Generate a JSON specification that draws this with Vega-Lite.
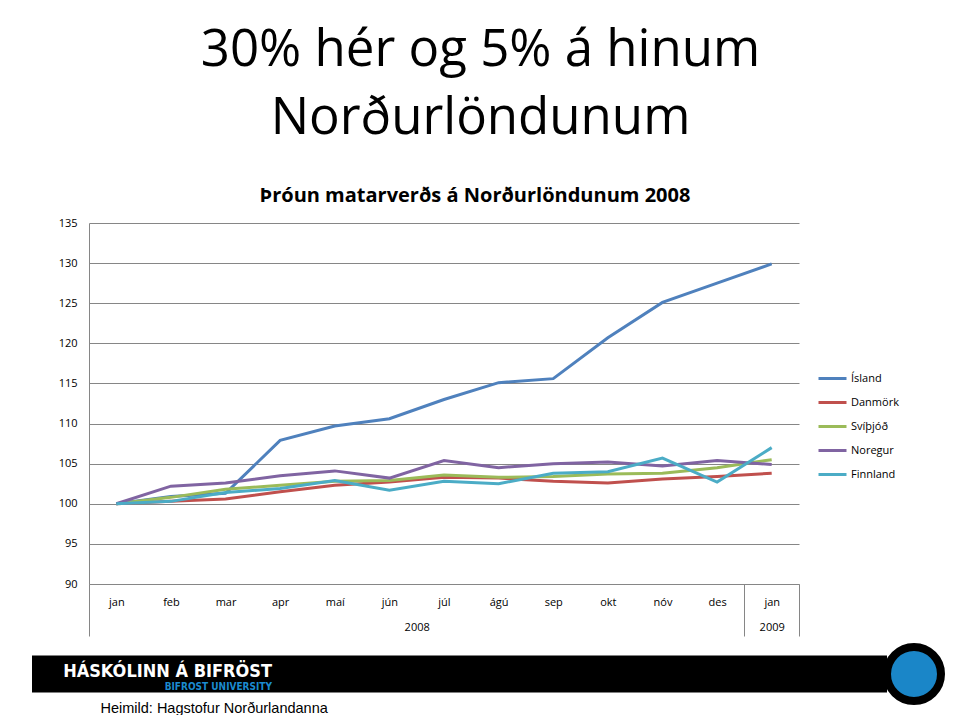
{
  "$schema": "https://vega.github.io/schema/vega-lite/v6.json",
  "background": "white",
  "padding": {"left": 32, "top": 25, "right": 10, "bottom": 0},
  "config": {"view": {"stroke": null}, "font": "Open Sans"},
  "title": {
    "text": ["30% hér og 5% á hinum", "Norðurlöndunum"],
    "font": "Open Sans",
    "fontSize": 51,
    "fontWeight": "normal",
    "color": "black",
    "anchor": "middle",
    "lineHeight": 68,
    "offset": 41,
    "dx": -8
  },
  "spacing": 6,
  "vconcat": [
    {
      "spacing": 0,
      "hconcat": [
        {
          "width": 1,
          "height": 1,
          "data": {"values": []},
          "mark": "point",
          "encoding": {}
        },
        {
          "width": 710,
          "height": 361,
          "title": {
            "text": "Þróun matarverðs á Norðurlöndunum 2008",
            "font": "Open Sans",
            "fontSize": 20,
            "fontWeight": "bold",
            "color": "black",
            "anchor": "middle",
            "dx": 31,
            "offset": 11
          },
          "layer": [
            {
              "data": {
                "values": [
                  {"country": "Ísland", "period": "2008-01", "value": 100},
                  {"country": "Ísland", "period": "2008-02", "value": 100.9},
                  {"country": "Ísland", "period": "2008-03", "value": 101.3},
                  {"country": "Ísland", "period": "2008-04", "value": 107.9},
                  {"country": "Ísland", "period": "2008-05", "value": 109.7},
                  {"country": "Ísland", "period": "2008-06", "value": 110.6},
                  {"country": "Ísland", "period": "2008-07", "value": 113.0},
                  {"country": "Ísland", "period": "2008-08", "value": 115.1},
                  {"country": "Ísland", "period": "2008-09", "value": 115.6},
                  {"country": "Ísland", "period": "2008-10", "value": 120.7},
                  {"country": "Ísland", "period": "2008-11", "value": 125.1},
                  {"country": "Ísland", "period": "2008-12", "value": 127.5},
                  {"country": "Ísland", "period": "2009-01", "value": 129.9},
                  {"country": "Danmörk", "period": "2008-01", "value": 100},
                  {"country": "Danmörk", "period": "2008-02", "value": 100.3},
                  {"country": "Danmörk", "period": "2008-03", "value": 100.6},
                  {"country": "Danmörk", "period": "2008-04", "value": 101.5},
                  {"country": "Danmörk", "period": "2008-05", "value": 102.3},
                  {"country": "Danmörk", "period": "2008-06", "value": 102.7},
                  {"country": "Danmörk", "period": "2008-07", "value": 103.3},
                  {"country": "Danmörk", "period": "2008-08", "value": 103.2},
                  {"country": "Danmörk", "period": "2008-09", "value": 102.8},
                  {"country": "Danmörk", "period": "2008-10", "value": 102.6},
                  {"country": "Danmörk", "period": "2008-11", "value": 103.1},
                  {"country": "Danmörk", "period": "2008-12", "value": 103.4},
                  {"country": "Danmörk", "period": "2009-01", "value": 103.8},
                  {"country": "Svíþjóð", "period": "2008-01", "value": 100},
                  {"country": "Svíþjóð", "period": "2008-02", "value": 100.8},
                  {"country": "Svíþjóð", "period": "2008-03", "value": 101.8},
                  {"country": "Svíþjóð", "period": "2008-04", "value": 102.3},
                  {"country": "Svíþjóð", "period": "2008-05", "value": 102.8},
                  {"country": "Svíþjóð", "period": "2008-06", "value": 102.9},
                  {"country": "Svíþjóð", "period": "2008-07", "value": 103.6},
                  {"country": "Svíþjóð", "period": "2008-08", "value": 103.3},
                  {"country": "Svíþjóð", "period": "2008-09", "value": 103.4},
                  {"country": "Svíþjóð", "period": "2008-10", "value": 103.7},
                  {"country": "Svíþjóð", "period": "2008-11", "value": 103.8},
                  {"country": "Svíþjóð", "period": "2008-12", "value": 104.5},
                  {"country": "Svíþjóð", "period": "2009-01", "value": 105.5},
                  {"country": "Noregur", "period": "2008-01", "value": 100},
                  {"country": "Noregur", "period": "2008-02", "value": 102.2},
                  {"country": "Noregur", "period": "2008-03", "value": 102.6},
                  {"country": "Noregur", "period": "2008-04", "value": 103.5},
                  {"country": "Noregur", "period": "2008-05", "value": 104.1},
                  {"country": "Noregur", "period": "2008-06", "value": 103.2},
                  {"country": "Noregur", "period": "2008-07", "value": 105.4},
                  {"country": "Noregur", "period": "2008-08", "value": 104.5},
                  {"country": "Noregur", "period": "2008-09", "value": 105.0},
                  {"country": "Noregur", "period": "2008-10", "value": 105.2},
                  {"country": "Noregur", "period": "2008-11", "value": 104.7},
                  {"country": "Noregur", "period": "2008-12", "value": 105.4},
                  {"country": "Noregur", "period": "2009-01", "value": 104.9},
                  {"country": "Finnland", "period": "2008-01", "value": 100},
                  {"country": "Finnland", "period": "2008-02", "value": 100.3},
                  {"country": "Finnland", "period": "2008-03", "value": 101.4},
                  {"country": "Finnland", "period": "2008-04", "value": 101.9},
                  {"country": "Finnland", "period": "2008-05", "value": 102.9},
                  {"country": "Finnland", "period": "2008-06", "value": 101.7},
                  {"country": "Finnland", "period": "2008-07", "value": 102.8},
                  {"country": "Finnland", "period": "2008-08", "value": 102.5},
                  {"country": "Finnland", "period": "2008-09", "value": 103.8},
                  {"country": "Finnland", "period": "2008-10", "value": 104.0},
                  {"country": "Finnland", "period": "2008-11", "value": 105.7},
                  {"country": "Finnland", "period": "2008-12", "value": 102.7},
                  {"country": "Finnland", "period": "2009-01", "value": 107.0}
                ]
              },
              "mark": {"type": "line", "strokeWidth": 3},
              "encoding": {
                "x": {
                  "field": "period",
                  "type": "ordinal",
                  "scale": {"type": "point", "padding": 0.5},
                  "axis": {
                    "orient": "bottom",
                    "title": null,
                    "labelExpr": "['jan','feb','mar','apr','maí','jún','júl','ágú','sep','okt','nóv','des'][toNumber(slice(datum.value, 5)) - 1]",
                    "labelAngle": 0,
                    "labelFontSize": 11,
                    "labelColor": "black",
                    "labelPadding": 12,
                    "ticks": false,
                    "tickSize": 0,
                    "grid": false,
                    "domainColor": "#868686"
                  }
                },
                "y": {
                  "field": "value",
                  "type": "quantitative",
                  "scale": {"domain": [90, 135], "zero": false, "nice": false},
                  "axis": {
                    "title": null,
                    "values": [90, 95, 100, 105, 110, 115, 120, 125, 130, 135],
                    "grid": true,
                    "gridColor": "#868686",
                    "gridOpacity": 1,
                    "domainColor": "#868686",
                    "ticks": false,
                    "tickSize": 0,
                    "labelPadding": 12,
                    "labelFontSize": 11,
                    "labelColor": "black",
                    "minExtent": 56
                  }
                },
                "color": {
                  "field": "country",
                  "type": "nominal",
                  "scale": {
                    "domain": ["Ísland", "Danmörk", "Svíþjóð", "Noregur", "Finnland"],
                    "range": ["#4F81BD", "#C0504D", "#9BBB59", "#8064A2", "#4BACC6"]
                  },
                  "legend": {
                    "title": null,
                    "orient": "none",
                    "legendX": 785,
                    "legendY": 140,
                    "symbolType": "stroke",
                    "symbolSize": 784,
                    "symbolStrokeWidth": 3,
                    "labelFontSize": 11,
                    "labelColor": "black",
                    "labelOffset": 3,
                    "rowPadding": 2
                  }
                }
              }
            },
            {
              "data": {"values": []},
              "mark": "point",
              "encoding": {
                "x": {
                  "field": "pos",
                  "type": "quantitative",
                  "scale": {"domain": [0, 13], "nice": false, "zero": false},
                  "axis": {
                    "orient": "bottom",
                    "title": null,
                    "values": [6, 12.5],
                    "labelExpr": "datum.value < 12 ? '2008' : '2009'",
                    "labelFontSize": 11,
                    "labelColor": "black",
                    "labelPadding": 37,
                    "domain": false,
                    "ticks": false,
                    "tickSize": 0,
                    "grid": false
                  }
                },
                "y": {"field": "value", "type": "quantitative"}
              }
            },
            {
              "data": {"values": []},
              "mark": "point",
              "encoding": {
                "x": {
                  "field": "pos",
                  "type": "quantitative",
                  "scale": {"domain": [0, 13], "nice": false, "zero": false},
                  "axis": {
                    "orient": "bottom",
                    "title": null,
                    "values": [0, 12, 13],
                    "labels": false,
                    "domain": false,
                    "ticks": true,
                    "tickSize": 52,
                    "tickColor": "#868686",
                    "grid": false
                  }
                },
                "y": {"field": "value", "type": "quantitative"}
              }
            }
          ],
          "resolve": {"scale": {"x": "independent"}, "axis": {"x": "independent"}}
        }
      ]
    },
    {
      "hconcat": [
        {
          "width": 855,
          "height": 37,
          "view": {"fill": "black", "stroke": null},
          "title": {
            "text": "HÁSKÓLINN Á BIFRÖST",
            "subtitle": "BIFROST UNIVERSITY",
            "anchor": "start",
            "align": "right",
            "orient": "top",
            "dx": 240,
            "offset": -36,
            "font": "DejaVu Sans Condensed",
            "fontSize": 18,
            "fontWeight": "bold",
            "color": "white",
            "subtitleFont": "DejaVu Sans Condensed",
            "subtitleFontSize": 10,
            "subtitleFontWeight": "bold",
            "subtitleColor": "#1B8BCF",
            "subtitlePadding": 1
          },
          "data": {"values": []},
          "mark": "point",
          "encoding": {
            "x": {
              "field": "source",
              "type": "nominal",
              "axis": {
                "title": "Heimild: Hagstofur Norðurlandanna",
                "titleFont": "Liberation Sans",
                "titleFontSize": 14.5,
                "titleFontWeight": "normal",
                "titleColor": "black",
                "titleAnchor": "start",
                "titleAlign": "left",
                "titleX": 68,
                "titleY": 9,
                "titleBaseline": "top",
                "labels": false,
                "ticks": false,
                "domain": false
              }
            }
          }
        },
        {
          "width": 54,
          "height": 54,
          "view": {"fill": "#1A86C8", "stroke": "black", "strokeWidth": 8, "cornerRadius": 27},
          "data": {"values": []},
          "mark": "point",
          "encoding": {}
        }
      ],
      "spacing": 0,
      "center": true,
      "bounds": "flush"
    }
  ]
}
